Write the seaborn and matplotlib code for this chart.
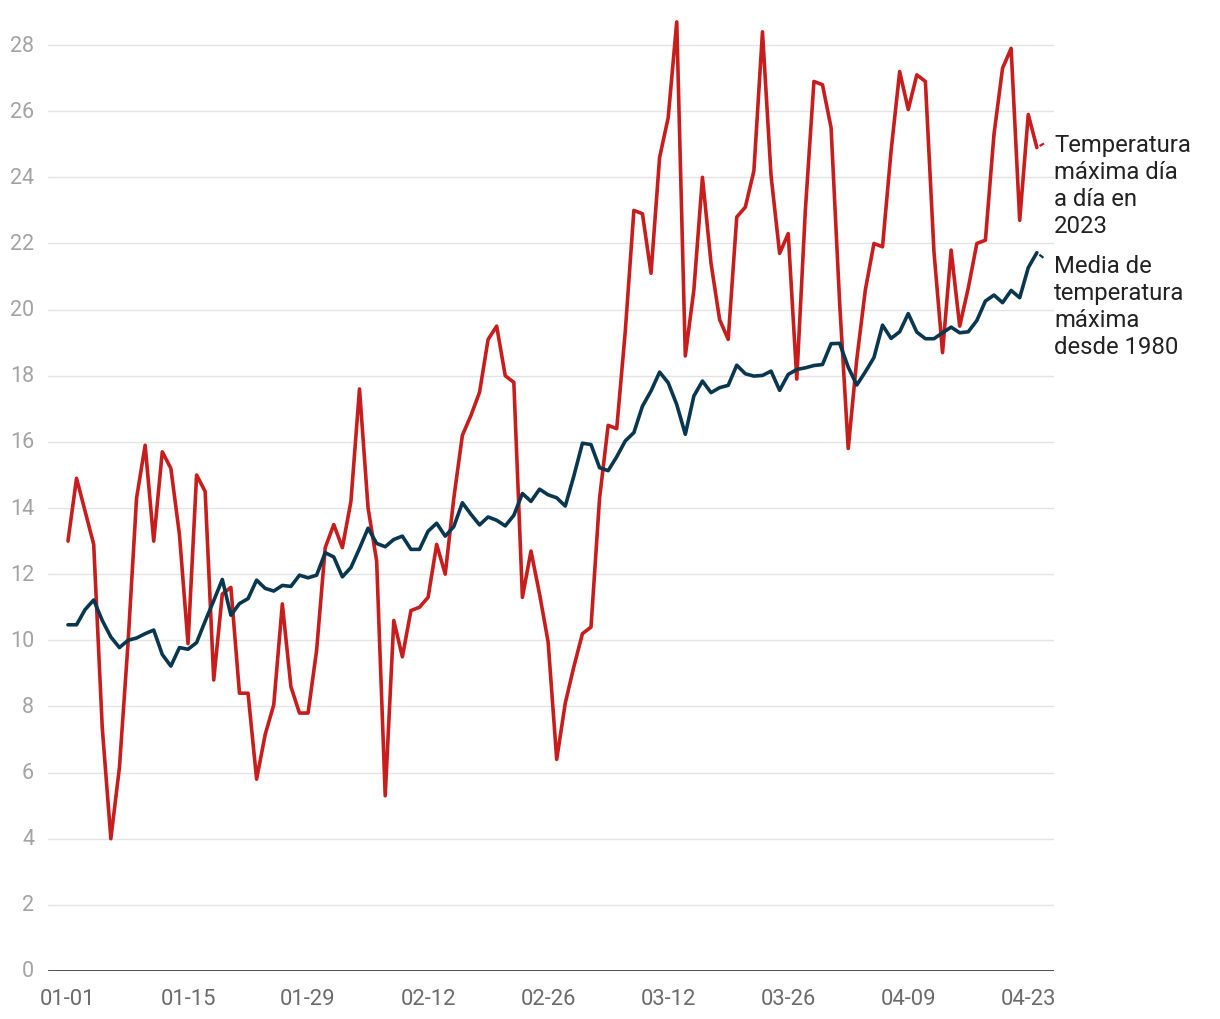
import numpy as np
import pandas as pd
import matplotlib
matplotlib.use("Agg")
import matplotlib.pyplot as plt
import seaborn as sns

start_date = "2023-01-01"
n_days = 115

temp_2023 = [13.0, 14.9, 13.9, 12.9, 7.35, 4.0, 6.15, 9.9, 14.3, 15.9,
             13.0, 15.7, 15.2, 13.2, 9.9, 15.0, 14.5, 8.8, 11.4, 11.6,
             8.4, 8.4, 5.8, 7.15, 8.05, 11.1, 8.6, 7.8, 7.8, 9.7,
             12.8, 13.5, 12.8, 14.2, 17.6, 14.0, 12.4, 5.3, 10.6, 9.5,
             10.9, 11.0, 11.3, 12.9, 12.0, 14.3, 16.2, 16.8, 17.5, 19.1,
             19.5, 18.0, 17.8, 11.3, 12.7, 11.4, 9.95, 6.4, 8.1, 9.2,
             10.2, 10.4, 14.3, 16.5, 16.4, 19.35, 23.0, 22.9, 21.1, 24.6,
             25.8, 28.7, 18.6, 20.6, 24.0, 21.4, 19.7, 19.1, 22.8, 23.1,
             24.2, 28.4, 24.05, 21.7, 22.3, 17.9, 23.0, 26.9, 26.8, 25.5,
             20.2, 15.8, 18.5, 20.6, 22.0, 21.9, 24.8, 27.2, 26.05, 27.1,
             26.9, 21.75, 18.7, 21.8, 19.5, 20.65, 22.0, 22.1, 25.3, 27.3,
             27.9, 22.7, 25.9, 24.9, 25.05]

temp_mean = [10.47, 10.47, 10.93, 11.22, 10.6, 10.1, 9.78, 10.0, 10.07, 10.2,
             10.31, 9.57, 9.22, 9.78, 9.73, 9.93, 10.58, 11.2, 11.84, 10.76,
             11.11, 11.26, 11.82, 11.57, 11.49, 11.66, 11.63, 11.97, 11.89, 11.97,
             12.65, 12.52, 11.92, 12.2, 12.78, 13.39, 12.93, 12.83, 13.05, 13.15,
             12.75, 12.75, 13.3, 13.54, 13.15, 13.44, 14.16, 13.81, 13.49, 13.73,
             13.63, 13.46, 13.78, 14.44, 14.2, 14.57, 14.4, 14.31, 14.06, 14.97,
             15.96, 15.92, 15.22, 15.13, 15.55, 16.03, 16.28, 17.08, 17.54, 18.11,
             17.79, 17.13, 16.23, 17.39, 17.84, 17.49, 17.64, 17.71, 18.32, 18.06,
             17.99, 18.01, 18.14, 17.56, 18.04, 18.19, 18.24, 18.31, 18.34, 18.97,
             18.98, 18.26, 17.72, 18.12, 18.55, 19.53, 19.13, 19.33, 19.88, 19.32,
             19.12, 19.12, 19.3, 19.47, 19.3, 19.33, 19.67, 20.26, 20.44, 20.21,
             20.58, 20.36, 21.27, 21.72, 21.52]

label_2023 = "Temperatura\nmáxima día\na día en\n2023"
label_mean = "Media de\ntemperatura\nmáxima\ndesde 1980"

tick_dates = ["2023-01-01", "2023-01-15", "2023-01-29", "2023-02-12", "2023-02-26",
              "2023-03-12", "2023-03-26", "2023-04-09", "2023-04-23"]
y_ticks = list(range(0, 29, 2))

RED = "#c71e1d"
BLUE = "#09374f"

dates = pd.date_range(start_date, periods=n_days, freq="D")
df = pd.DataFrame({"fecha": dates, "t2023": temp_2023, "tmedia": temp_mean})
solid = df.iloc[:-1]
dashed = df.iloc[-2:]

sns.set_theme(style="white")
plt.rcParams["font.family"] = ["Roboto", "DejaVu Sans"]

fig = plt.figure(figsize=(12.2, 10.2), dpi=100)
ax = fig.add_axes([48 / 1220, 48 / 1020, (1054 - 48) / 1220, (972 - 13) / 1020])

for y in y_ticks[1:]:
    ax.axhline(y, color="#e3e3e3", lw=1.0, zorder=0)

dash_style = (0, (0.01, 1.4, 2.3, 5))
sns.lineplot(data=solid, x="fecha", y="t2023", ax=ax, color=RED, lw=2.6, zorder=3)
sns.lineplot(data=dashed, x="fecha", y="t2023", ax=ax, color=RED, lw=1.6,
             linestyle=dash_style, zorder=3)
sns.lineplot(data=solid, x="fecha", y="tmedia", ax=ax, color=BLUE, lw=2.6, zorder=4)
sns.lineplot(data=dashed, x="fecha", y="tmedia", ax=ax, color=BLUE, lw=1.6,
             linestyle=dash_style, zorder=4)

ax.axhline(0, color="#1a1a1a", lw=1.8, zorder=5)

t0 = pd.Timestamp(start_date)
ax.set_xlim(t0 - pd.Timedelta(days=2.33), t0 + pd.Timedelta(days=115.0))
ax.set_ylim(0, 29)

ax.set_xticks(pd.to_datetime(tick_dates))
ax.set_xticklabels([pd.Timestamp(d).strftime("%m-%d") for d in tick_dates],
                   fontsize=15.8, color="#6b6b6b")
ax.set_yticks(y_ticks)
ax.set_yticklabels([str(v) for v in y_ticks], fontsize=15.5, color="#a3a3a3")
ax.tick_params(axis="x", length=0, pad=12)
ax.tick_params(axis="y", length=0, pad=10)
for lab in ax.get_yticklabels():
    lab.set_verticalalignment("center")

for s in ax.spines.values():
    s.set_visible(False)
ax.set_xlabel("")
ax.set_ylabel("")
ax.grid(False)

fig.text(1054 / 1220, 1 - 134 / 1020, label_2023, fontsize=17.2, color="#222222",
         va="top", ha="left", linespacing=1.22)
fig.text(1054 / 1220, 1 - 255 / 1020, label_mean, fontsize=17.2, color="#222222",
         va="top", ha="left", linespacing=1.22)

fig.savefig("out.png", dpi=100)
